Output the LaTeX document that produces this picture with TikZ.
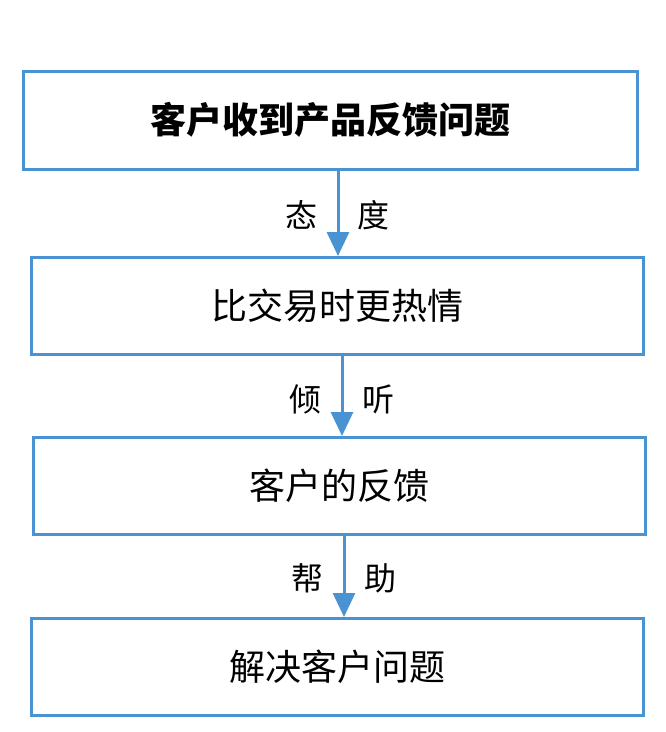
\documentclass[tikz,border=0pt]{standalone}
\usepackage{fontspec}
\setmainfont{Noto Sans CJK SC}
\usetikzlibrary{arrows.meta}
\definecolor{boxblue}{HTML}{4A93D3}
\tikzset{
  stepbox/.style={draw=boxblue, line width=2.6pt, inner sep=0pt, anchor=north west},
  flow/.style={draw=boxblue, line width=3pt, -{Triangle[length=24pt,width=22pt]}},
  lbl/.style={font=\fontsize{32}{32}\selectfont, inner sep=0pt}
}
\begin{document}
\begin{tikzpicture}[x=1pt,y=-1pt]
\useasboundingbox (0,0) rectangle (666,732);
\node[stepbox, minimum width=614pt, minimum height=98pt] (b1) at (22,70) {};
\node[font=\fontsize{36}{36}\selectfont\bfseries] at (b1.center) {客户收到产品反馈问题};
\node[stepbox, minimum width=612pt, minimum height=97pt] (b2) at (30,256) {};
\node[font=\fontsize{36}{36}\selectfont] at (b2.center) {比交易时更热情};
\node[stepbox, minimum width=612pt, minimum height=97pt] (b3) at (32,436) {};
\node[font=\fontsize{36}{36}\selectfont] at (b3.center) {客户的反馈};
\node[stepbox, minimum width=612pt, minimum height=97pt] (b4) at (30,617) {};
\node[font=\fontsize{36}{36}\selectfont] at (b4.center) {解决客户问题};
\coordinate (a1s) at (338,168); \coordinate (a1e) at (338,256);
\coordinate (a2s) at (342,353); \coordinate (a2e) at (342,436);
\coordinate (a3s) at (344,533); \coordinate (a3e) at (344,617);
\draw[flow] (a1s) -- (a1e);
\draw[flow] (a2s) -- (a2e);
\draw[flow] (a3s) -- (a3e);
\node[lbl] (l1a) at (301,215) {态};
\node[lbl] (l1b) at (373,215) {度};
\node[lbl] (l2a) at (305,399) {倾};
\node[lbl] (l2b) at (378,399) {听};
\node[lbl] (l3a) at (307,578) {帮};
\node[lbl] (l3b) at (380,578) {助};
\end{tikzpicture}
\end{document}
